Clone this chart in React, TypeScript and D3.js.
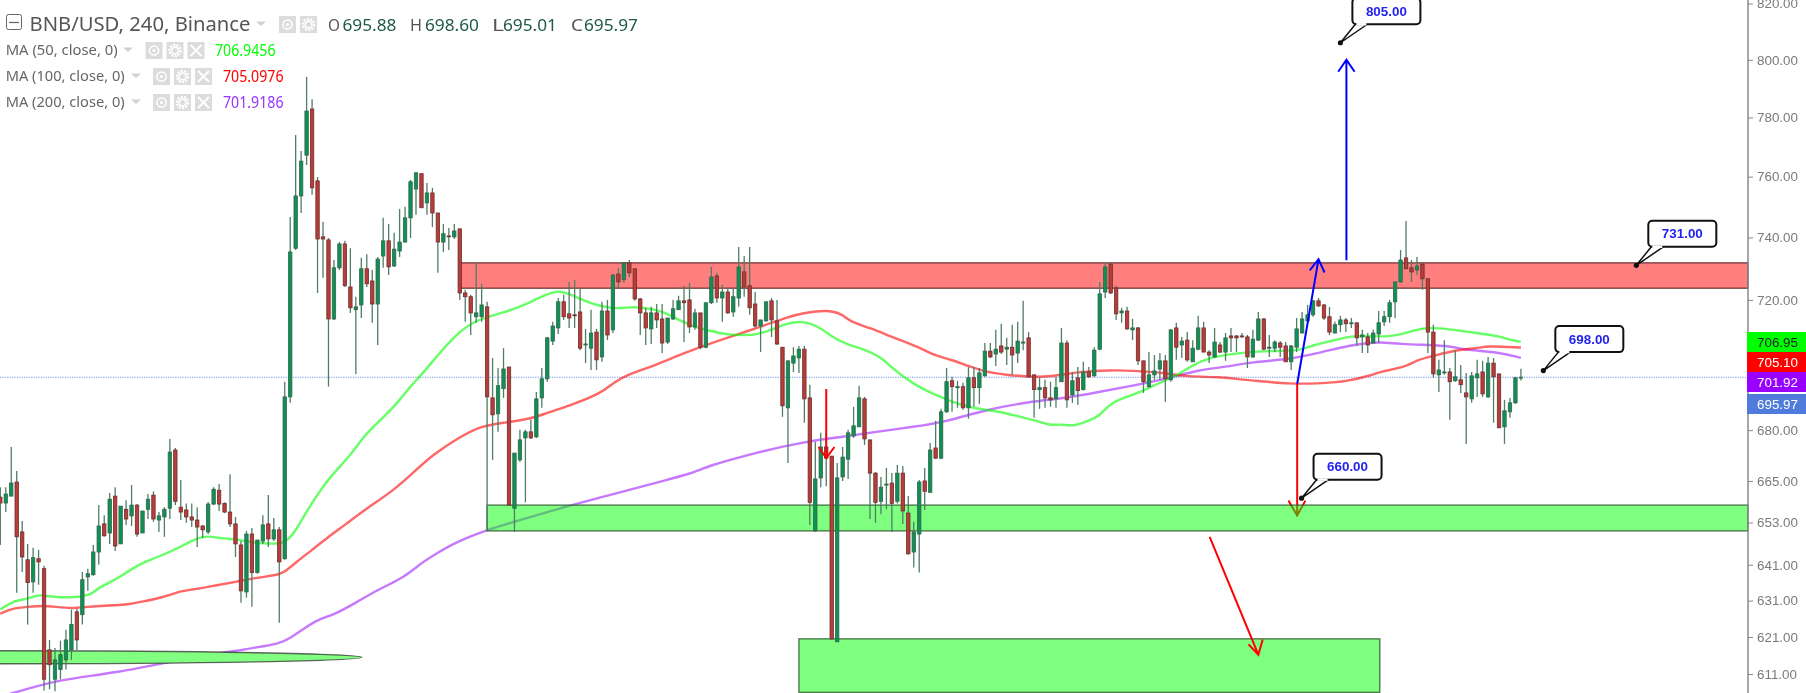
import React, { useEffect, useRef } from 'react';
import * as d3 from 'd3';

const W = 1806;
const H = 693;
const AXIS_X = 1748;

const open = [
  660.3,658.6,660.6,664.7,650.3,642.4,636.2,642.7,639.9,617.5,
  609.6,612.2,614.8,617.5,627.9,627.1,637.6,638.2,644.6,652.6,
  650.0,660.6,646.9,656.8,654.9,658.0,650.0,656.8,660.9,653.7,
  654.6,657.1,674.1,657.4,656.6,654.6,653.7,652.0,650.3,658.3,
  662.3,658.5,656.0,652.6,646.6,633.4,649.7,638.8,647.7,652.6,
  648.3,650.9,642.7,690.0,736.5,753.6,767.2,782.9,758.6,740.2,
  739.2,714.0,730.2,737.9,724.1,716.9,718.4,729.9,726.0,718.7,
  734.0,738.9,730.8,735.6,738.5,746.4,755.9,761.0,751.3,754.6,
  748.0,738.5,740.5,740.2,742.8,722.2,721.0,714.7,714.7,717.8,
  689.7,684.9,692.5,699.1,657.1,671.2,677.7,679.5,678.0,689.7,
  695.5,707.1,711.2,719.4,715.6,715.3,716.2,705.9,704.9,709.9,
  702.2,716.5,710.6,728.2,726.4,731.8,729.9,720.3,715.9,710.9,
  715.9,714.0,706.8,714.0,716.9,719.7,720.0,711.5,715.9,705.2,
  719.1,727.6,720.6,722.5,716.2,720.6,728.9,724.5,718.7,711.8,
  713.4,719.7,713.4,705.2,686.7,700.3,701.9,704.6,689.7,650.6,
  665.9,675.0,672.3,619.7,666.2,671.4,678.3,681.0,689.4,677.1,
  667.3,659.1,663.8,664.4,659.1,667.3,655.7,644.6,649.7,665.0,
  661.7,674.7,671.7,685.5,694.9,692.8,693.1,686.7,695.8,692.8,
  696.4,704.0,703.1,705.6,704.6,705.2,703.4,706.5,708.1,696.7,
  692.2,692.8,689.7,689.4,694.6,706.5,690.6,695.8,692.2,697.6,
  696.4,704.6,722.5,731.4,723.8,715.9,716.5,710.6,711.2,701.0,
  693.1,696.7,698.5,701.0,695.2,711.2,705.9,707.4,700.7,704.6,
  711.2,703.7,702.2,705.9,703.7,708.7,708.7,708.7,708.4,702.2,
  707.4,714.0,704.9,704.9,706.5,705.6,700.7,705.2,709.6,713.4,
  715.3,719.7,718.4,714.7,709.6,712.2,713.7,712.5,712.8,708.4,
  708.4,706.5,709.3,713.1,714.7,719.4,725.7,733.4,730.2,729.5,
  731.4,726.7,709.9,696.7,697.3,697.6,694.9,695.2,691.2,689.4,
  695.8,697.6,690.0,700.3,697.0,681.0,685.5,688.2,695.88
];

const high = [
  663.2,663.2,675.0,667.9,653.4,646.9,645.8,645.2,640.7,620.2,
  618.0,620.0,623.0,628.5,628.7,639.0,639.9,646.6,658.0,655.1,
  661.5,663.2,657.7,659.4,663.8,658.3,656.3,661.2,662.0,656.0,
  657.4,677.4,674.7,665.3,658.5,658.5,657.4,652.3,658.9,663.2,
  664.1,658.8,667.0,654.6,647.7,650.6,651.4,648.0,655.1,660.9,
  654.3,651.7,694.6,746.7,774.0,768.6,794.0,786.3,759.9,745.1,
  739.8,732.7,738.5,738.9,736.5,721.0,733.4,734.6,729.5,733.7,
  746.4,744.4,741.5,749.3,750.0,758.9,761.3,761.0,757.9,756.3,
  748.0,744.4,743.1,744.4,742.8,723.2,721.6,731.8,725.1,719.4,
  701.9,698.8,704.9,699.1,673.2,680.1,680.1,683.1,691.5,698.8,
  708.4,713.1,720.6,721.6,725.7,726.4,723.8,710.9,716.9,710.9,
  719.4,720.0,728.2,730.2,731.8,732.7,729.9,720.6,717.5,717.8,
  718.7,718.7,714.3,720.0,721.3,724.5,725.4,717.2,715.9,719.1,
  730.5,728.6,724.8,723.8,723.8,736.9,734.0,736.9,722.5,713.7,
  719.4,720.6,720.0,705.2,701.0,705.2,705.6,705.6,693.7,676.5,
  679.2,679.2,672.3,670.3,675.0,680.1,687.0,693.4,690.0,677.1,
  667.6,666.2,668.8,667.3,669.7,669.4,660.6,653.2,665.3,668.8,
  676.2,682.8,686.4,698.8,696.1,694.9,694.3,699.1,699.1,698.8,
  706.5,706.5,710.6,712.5,708.1,712.2,713.1,719.7,709.9,696.7,
  695.8,695.2,694.6,696.1,711.2,707.4,697.6,699.1,700.7,699.1,
  705.2,725.7,731.8,732.1,724.5,717.5,717.8,714.0,711.5,701.0,
  703.7,702.8,703.4,702.8,710.6,712.8,708.4,709.9,707.4,715.0,
  713.1,704.3,711.2,706.8,709.6,711.2,709.0,709.6,709.0,710.6,
  716.2,714.3,709.0,707.4,707.1,706.8,705.9,714.3,716.2,718.4,
  720.0,720.6,718.7,717.8,713.1,715.0,714.3,714.3,712.8,710.6,
  709.6,710.6,716.5,716.5,720.0,725.7,735.9,745.4,732.7,733.7,
  732.1,726.7,712.2,701.3,707.4,698.8,704.3,699.7,697.3,697.6,
  701.3,701.0,702.2,701.9,697.0,689.1,689.7,696.1,698.60
];

const low = [
  646.6,656.0,660.6,633.2,639.0,624.4,633.2,635.4,606.6,606.9,
  606.4,609.6,612.2,614.8,617.5,624.4,633.7,637.9,641.0,648.9,
  646.9,644.9,646.9,652.3,652.0,648.9,650.0,654.0,653.2,650.3,
  648.9,654.0,658.0,653.7,652.9,651.7,646.0,648.6,649.7,658.0,
  656.3,655.7,651.7,643.2,630.4,631.8,629.3,638.5,646.9,646.0,
  647.7,624.9,642.4,688.2,735.9,748.0,763.9,754.0,722.2,727.0,
  693.1,713.7,729.5,724.1,715.9,697.0,714.3,724.1,712.8,705.9,
  730.2,727.9,730.5,733.7,738.5,739.8,747.4,749.7,747.4,743.4,
  728.6,735.3,735.9,739.5,720.0,713.1,709.0,712.8,713.1,650.9,
  671.2,679.5,689.7,658.0,650.3,670.6,658.8,677.4,677.7,686.7,
  694.6,705.9,709.3,713.7,711.2,711.2,704.3,700.3,698.2,698.2,
  700.7,707.4,709.6,723.8,725.4,727.3,719.7,709.0,705.9,706.2,
  711.2,703.4,706.2,713.7,716.9,706.8,709.6,710.6,704.6,704.9,
  718.7,719.1,713.1,715.6,714.7,717.8,721.0,715.3,711.2,703.7,
  713.1,708.4,705.9,684.0,670.3,697.6,697.3,682.2,652.3,650.3,
  663.2,663.5,620.2,619.7,665.0,665.6,677.7,681.0,675.6,654.0,
  652.9,655.4,656.8,650.3,658.5,652.6,643.8,640.2,638.8,656.6,
  661.7,671.4,671.4,685.2,685.5,686.7,686.1,683.4,687.0,687.9,
  696.1,701.9,699.4,703.1,699.7,696.7,700.3,704.3,696.1,683.7,
  686.4,686.7,687.0,686.7,694.6,686.7,688.2,687.6,691.9,695.8,
  696.1,704.3,720.6,721.9,713.7,712.8,710.6,707.4,699.7,691.2,
  692.8,695.2,695.2,688.5,694.6,701.3,701.9,700.7,700.7,704.3,
  703.7,700.3,701.9,703.4,701.0,703.7,703.7,708.1,698.8,701.9,
  707.1,704.3,702.2,703.7,702.2,700.7,698.2,703.7,709.6,713.1,
  714.7,717.8,713.7,709.0,709.6,709.9,709.9,711.2,705.6,703.4,
  703.4,706.5,706.5,711.8,712.8,714.3,725.4,729.9,725.7,727.9,
  723.2,703.4,695.8,691.5,696.7,683.1,694.6,691.2,675.9,688.2,
  690.0,690.0,689.7,682.2,680.7,675.9,683.7,687.9,695.01
];

const close = [
  658.6,661.2,664.4,648.9,643.2,636.0,643.0,641.8,609.6,613.5,
  614.8,616.2,620.2,624.4,620.2,636.8,638.5,644.6,652.0,649.2,
  659.7,646.3,657.7,654.0,658.0,649.7,656.3,659.7,654.0,654.9,
  656.8,673.5,659.1,656.0,654.6,653.7,651.7,650.9,658.3,662.6,
  658.3,656.0,652.6,646.9,633.7,649.7,638.8,648.0,652.3,648.3,
  650.9,641.8,690.0,735.3,753.6,765.2,782.2,756.3,739.5,739.5,
  714.0,730.2,737.9,724.5,717.5,717.8,729.9,725.1,718.7,733.0,
  738.9,730.5,736.2,738.5,746.4,758.3,761.3,749.7,754.6,748.0,
  738.5,741.2,740.2,742.1,722.2,721.0,715.9,715.9,718.4,690.0,
  684.6,693.4,698.5,658.0,673.2,677.1,679.5,677.7,689.4,695.5,
  708.1,711.8,719.4,714.7,714.3,715.0,704.9,706.2,709.6,701.3,
  716.5,709.0,727.9,725.7,731.8,728.6,720.3,715.9,711.2,715.9,
  713.7,706.5,714.3,717.2,719.7,719.1,711.5,715.9,705.2,719.1,
  727.3,720.6,722.5,715.9,721.0,730.5,724.1,717.5,711.8,713.7,
  719.4,713.7,706.2,687.3,701.0,702.5,704.6,689.4,658.8,665.6,
  675.0,671.7,620.5,665.9,672.0,679.2,681.3,689.7,677.4,667.3,
  658.8,663.2,664.1,658.5,667.3,656.3,644.1,650.3,664.7,662.0,
  674.1,671.7,685.5,694.6,693.1,693.1,686.7,695.8,692.8,697.3,
  704.0,702.2,704.6,703.7,705.2,702.8,707.1,706.8,696.1,692.2,
  692.8,689.7,689.1,692.8,706.5,689.1,694.9,691.9,697.6,696.1,
  704.3,721.9,730.5,722.2,715.6,716.5,710.9,711.2,701.0,694.6,
  696.7,697.9,701.0,695.5,710.6,705.2,707.1,701.3,704.9,711.2,
  703.7,702.8,706.8,703.7,708.1,708.1,708.1,708.4,702.2,707.7,
  714.0,704.6,705.2,706.8,705.2,700.7,705.6,710.9,714.0,715.3,
  719.7,718.1,714.3,709.9,712.2,713.7,712.5,712.8,708.1,709.0,
  705.9,709.6,712.8,714.7,719.1,725.7,732.7,729.9,728.9,730.8,
  726.7,709.9,697.0,698.2,697.6,694.6,696.1,693.7,690.0,696.4,
  697.0,690.9,700.3,696.1,680.7,685.8,688.2,695.8,695.97
];

// moving averages read at turning points: bar index, price
const ma50Bars = [0,2,5,7,8,10,14,16,17,18,21,23,26,28,31,34,36,38,41,43,45,49,52,53.9,55.8,58.5,60.3,64.4,66.6,70,73.1,74.9,77,79.7,83.2,86.8,92,97,102,106,110,113,115,118,121,124,127,129,133,136,138,141,144,147,150,152,155,158,161,163,167,171,174,177,180,183,187,189,192,194,196,199,201,203,206,208,212,215,218,221,225,230,234,238,240,244,247,250,254,257,260,263,267,271,274,276,278];
const ma50 = [628.5,630.7,631.5,632.6,632.4,631.9,631.9,632.5,633.2,634.6,636.8,638.8,641.6,642.7,644.6,646.9,648.6,649.2,648.3,648.3,647.5,646.9,646.9,650.3,655.7,662.3,666.2,673.2,678.6,683.7,689.1,693.1,696.7,702.2,709.0,713.7,715.9,719.1,724.1,720.0,717.8,717.2,717.8,717.5,716.5,713.7,711.5,710.6,709.0,709.0,709.0,710.6,712.8,713.4,711.2,708.4,705.9,704.6,702.2,698.8,693.7,690.6,688.5,687.0,686.1,685.5,683.7,683.1,681.3,681.9,681.0,682.8,684.3,688.2,690.0,691.2,694.3,696.4,699.7,701.9,703.1,704.0,704.0,704.3,705.9,707.4,708.7,708.7,708.4,709.6,711.2,711.2,710.3,709.3,708.7,707.4,706.95];

const ma100Bars = [0,2,5,8,10,13,16,19,23,26,30,33,35,39,43,47,51,52,54,57,60,63,67,72,76,79,84,88,92,97,100,104,110,112,115,119,125,130,136,139,144,147,151,154,155,159,163,168,171,174,177,180,184,188,192,197,203,208,213,217,223,227,232,235,241,246,251,252,257,259,262,266,270,272,276,278];
const ma100 = [627.4,628.8,629.3,629.6,629.3,628.8,629.3,629.6,629.8,630.7,632.0,633.7,634.0,635.1,636.2,637.4,638.2,639.0,641.6,645.2,648.9,652.3,657.1,662.3,668.2,672.6,678.0,681.3,682.2,683.4,685.2,687.3,691.2,694.3,697.0,699.1,703.4,706.5,709.9,711.5,714.7,715.9,716.9,715.6,713.4,711.2,708.4,705.2,702.5,701.3,699.4,697.6,696.7,696.1,696.1,697.6,698.2,697.9,697.3,696.1,696.1,695.2,694.6,694.0,694.0,694.6,696.7,697.6,699.1,701.3,702.5,704.3,704.9,705.6,705.2,705.1];

const ma200Bars = [0,4,11,21,34,39,43,46,51,53,56,58,61,65,69,74,77,80,83,89,94,103,110,121,126,130,136,141,148,154,160,167,173,180,188,195,200,207,214,219,224,229,235,241,247,250,252,256,261,265,268,274,278];
const ma200 = [605.0,606.6,609.6,611.2,615.2,616.4,617.2,618.0,619.1,620.7,623.8,625.7,627.1,630.4,634.0,637.6,641.6,644.4,647.2,650.9,653.2,657.4,660.3,665.0,667.0,669.7,672.3,674.4,676.8,678.0,679.5,681.0,682.5,686.1,688.5,689.7,691.2,693.4,695.8,698.2,699.1,700.7,701.3,703.4,705.9,706.5,706.8,706.2,705.9,705.6,704.3,703.7,701.92];

const tickValues = [820, 800, 780, 760, 740, 720, 680, 665, 653, 641, 631, 621, 611];

const tagValues = [706.95, 705.10, 701.92, 695.97];
const tagFill = ['#00ff00', '#ff0000', '#9900ff', '#4f7bdc'];
const tagText = ['#222', '#fff', '#fff', '#fff'];

const legendNames = ['MA (50, close, 0)', 'MA (100, close, 0)', 'MA (200, close, 0)'];
const legendValues = ['706.9456', '705.0976', '701.9186'];
const legendColors = ['#00ff00', '#ff0000', '#9933ff'];

const ohlcNames = ['O', 'H', 'L', 'C'];
const ohlcValues = ['695.88', '698.60', '695.01', '695.97'];

const calloutLabels = ['805.00', '731.00', '698.00', '660.00'];
const calloutPrices = [806.0, 731, 698, 660];
const calloutBars = [245, 299.1, 282.1, 237.9];

const lastPrice = 695.97;

export default function App() {
  const svgRef = useRef<SVGSVGElement>(null);

  useEffect(() => {
    if (!svgRef.current) return;
    const svg = d3.select(svgRef.current);
    svg.selectAll('*').remove();

    const x = d3.scaleLinear().domain([0, 278]).range([0.3, 1520.9]);
    const y = d3.scaleLog().domain([820, 611]).range([3.5, 674]);

    const pane = svg.append('g');

    const maLine = d3.line<[number, number]>()
      .x(d => x(d[0]))
      .y(d => y(d[1]))
      .curve(d3.curveBasis);

    const arrow = (g: any, pts: [number, number][], wings: [number, number][], color: string) => {
      const p = d3.path();
      p.moveTo(x(pts[0][0]), y(pts[0][1]));
      p.lineTo(x(pts[1][0]), y(pts[1][1]));
      p.moveTo(x(wings[0][0]), y(wings[0][1]));
      p.lineTo(x(pts[1][0]), y(pts[1][1]));
      p.lineTo(x(wings[1][0]), y(wings[1][1]));
      g.append('path').attr('d', p.toString()).attr('fill', 'none')
        .attr('stroke', color).attr('stroke-width', 2);
    };

    // dotted last price line
    pane.append('line')
      .attr('x1', 0).attr('x2', AXIS_X)
      .attr('y1', y(lastPrice)).attr('y2', y(lastPrice))
      .attr('stroke', '#6f93ee').attr('stroke-width', 1.2).attr('stroke-dasharray', '1.2 1.2');

    const mas: [number[], number[], string][] = [
      [ma200Bars, ma200, '#a020ff'],
      [ma100Bars, ma100, '#ff0000'],
      [ma50Bars, ma50, '#00ff00'],
    ];
    mas.forEach(([bars, vals, color]) => {
      pane.append('path')
        .attr('d', maLine(bars.map((b, i) => [b, vals[i]] as [number, number])))
        .attr('fill', 'none').attr('stroke', color)
        .attr('stroke-opacity', 0.6).attr('stroke-width', 2.4);
    });

    // this one sits below the zone, its head goes olive under the green fill
    arrow(pane, [[237.1, 693.9], [237.1, 655.0]], [[235.5, 659.3], [238.6, 659.3]], '#ff0000');

    const zones: [number, number, number, number, string, string][] = [
      [84, 278 + 41.5, 731.8, 723.7, '#ff0000', '#5a2626'],
      [89, 278 + 41.5, 658.0, 650.6, '#00ff00', '#2f5a2f'],
      [146, 252.2, 620.5, 606.1, '#00ff00', '#2f5a2f'],
    ];
    zones.forEach(([b0, b1, top, bot, fill, edge]) => {
      pane.append('rect')
        .attr('x', x(b0)).attr('width', x(b1) - x(b0))
        .attr('y', y(top)).attr('height', y(bot) - y(top))
        .attr('fill', fill).attr('fill-opacity', 0.5)
        .attr('stroke', edge).attr('stroke-opacity', 0.8).attr('stroke-width', 1.4);
    });

    // flattened old drawing on the left edge
    pane.append('ellipse')
      .attr('cx', x(0)).attr('cy', y(615.5))
      .attr('rx', x(66.1) - x(0)).attr('ry', (y(613.7) - y(617.2)) / 2)
      .attr('fill', '#80ff80').attr('stroke', '#333').attr('stroke-opacity', 0.75).attr('stroke-width', 1.4);

    const candles = pane.append('g');
    d3.range(open.length).forEach(i => {
      const up = close[i] >= open[i];
      const cx = x(i);
      candles.append('line')
        .attr('x1', cx).attr('x2', cx)
        .attr('y1', y(high[i])).attr('y2', y(low[i]))
        .attr('stroke', '#4f7d66').attr('stroke-width', 1.3);
      const top = y(Math.max(open[i], close[i]));
      const bot = y(Math.min(open[i], close[i]));
      candles.append('rect')
        .attr('x', cx - 1.7).attr('width', 3.4)
        .attr('y', top).attr('height', Math.max(bot - top, 0.8))
        .attr('fill', up ? '#0e9155' : '#b83c38')
        .attr('stroke', up ? '#33664c' : '#6d2f2d').attr('stroke-width', 0.8);
    });

    // drawn trend arrows
    arrow(pane, [[151, 692.4], [151, 671.7]], [[149.6, 675.0], [152.5, 675.0]], '#ff0000');
    arrow(pane, [[246.1, 732.6], [246.1, 800]], [[244.6, 795.8], [247.6, 795.8]], '#0000ff');
    arrow(pane, [[237.1, 693.9], [241, 733.0]], [[239.4, 729.4], [242.1, 728.7]], '#0000ff');
    arrow(pane, [[221.1, 648.9], [230, 616.2]], [[228.2, 619.0], [230.8, 620.3]], '#ff0000');

    // price callouts
    calloutLabels.forEach((text, i) => {
      const dx = x(calloutBars[i]);
      const dy = y(calloutPrices[i]);
      const left = dx + 12;
      const bottom = dy - 18.5;
      const g = svg.append('g');
      g.append('path')
        .attr('d', `M${left + 3},${bottom} L${dx},${dy} L${left + 15},${bottom}`)
        .attr('fill', '#fff').attr('stroke', '#111').attr('stroke-width', 1.5);
      g.append('rect')
        .attr('x', left).attr('y', bottom - 26).attr('width', 68).attr('height', 26).attr('rx', 4)
        .attr('fill', '#fff').attr('stroke', '#111').attr('stroke-width', 2);
      g.append('line')
        .attr('x1', left + 4).attr('x2', left + 14)
        .attr('y1', bottom).attr('y2', bottom)
        .attr('stroke', '#fff').attr('stroke-width', 2.4);
      g.append('circle').attr('cx', dx).attr('cy', dy).attr('r', 2.6).attr('fill', '#111');
      g.append('text')
        .attr('x', left + 34).attr('y', bottom - 8.5)
        .attr('text-anchor', 'middle')
        .attr('font-family', '"Liberation Sans", Arial, sans-serif')
        .attr('font-weight', 700).attr('font-size', 13.4)
        .attr('fill', '#2323ee')
        .text(text);
    });

    // right price scale
    const axisG = svg.append('g').attr('transform', `translate(${AXIS_X},0)`);
    axisG.call(
      d3.axisRight(y)
        .tickValues(tickValues)
        .tickFormat(d3.format('.2f') as any)
        .tickSize(5)
        .tickPadding(4)
    );
    axisG.select('.domain').remove();
    axisG.append('line')
      .attr('x1', 0).attr('x2', 0).attr('y1', 0).attr('y2', H)
      .attr('stroke', '#8a8a8a').attr('stroke-width', 1.5);
    axisG.selectAll('.tick line').attr('stroke', '#888');
    axisG.selectAll('.tick text')
      .attr('fill', '#7a7a7a')
      .attr('font-family', '"Liberation Sans", Arial, sans-serif')
      .attr('font-size', 13.4);

    tagValues.forEach((v, i) => {
      const top = 332 + i * 20 + (i === 3 ? 2 : 0);
      svg.append('rect')
        .attr('x', AXIS_X - 1).attr('y', top).attr('width', W - AXIS_X + 1).attr('height', 20)
        .attr('fill', tagFill[i]);
      svg.append('text')
        .attr('x', AXIS_X + 9).attr('y', top + 15)
        .attr('font-family', '"Liberation Sans", Arial, sans-serif')
        .attr('font-size', 13.4)
        .attr('fill', tagText[i])
        .text(v.toFixed(2));
    });

    // legend
    const legend = svg.append('g').attr('font-family', '"Noto Sans", Tahoma, sans-serif');

    const label = (tx: number, ty: number, s: string, size: number, fill: string, len: number) => {
      legend.append('text')
        .attr('x', tx).attr('y', ty)
        .attr('font-size', size).attr('fill', fill)
        .attr('textLength', len).attr('lengthAdjust', 'spacingAndGlyphs')
        .text(s);
    };
    const caret = (tx: number, ty: number, w: number) => {
      legend.append('path')
        .attr('d', `M${tx},${ty} h${w} l${-w / 2},${w * 0.45} Z`)
        .attr('fill', '#d2d2d2');
    };
    const iconBox = (tx: number, ty: number, kind: string) => {
      const s = 17;
      const cx = tx + s / 2;
      const cy = ty + s / 2;
      legend.append('rect').attr('x', tx).attr('y', ty).attr('width', s).attr('height', s).attr('fill', '#dcdcdc');
      if (kind === 'eye') {
        legend.append('circle').attr('cx', cx).attr('cy', cy).attr('r', 4.6)
          .attr('fill', 'none').attr('stroke', '#fff').attr('stroke-width', 1.5);
        legend.append('circle').attr('cx', cx).attr('cy', cy).attr('r', 1.5).attr('fill', '#fff');
      } else if (kind === 'gear') {
        legend.append('circle').attr('cx', cx).attr('cy', cy).attr('r', 5.6)
          .attr('fill', 'none').attr('stroke', '#fff').attr('stroke-width', 2.2).attr('stroke-dasharray', '2.2 1.2');
        legend.append('circle').attr('cx', cx).attr('cy', cy).attr('r', 3.4)
          .attr('fill', 'none').attr('stroke', '#fff').attr('stroke-width', 1.6);
      } else {
        legend.append('path')
          .attr('d', `M${tx + 3},${ty + 3} L${tx + s - 3},${ty + s - 3} M${tx + s - 3},${ty + 3} L${tx + 3},${ty + s - 3}`)
          .attr('stroke', '#fff').attr('stroke-width', 1.8);
      }
    };

    legend.append('rect')
      .attr('x', 6.5).attr('y', 14.5).attr('width', 15).attr('height', 15).attr('rx', 2)
      .attr('fill', '#fff').attr('stroke', '#666').attr('stroke-width', 1);
    legend.append('line')
      .attr('x1', 9).attr('x2', 19).attr('y1', 22.5).attr('y2', 22.5)
      .attr('stroke', '#666').attr('stroke-width', 1.2);
    label(29.5, 31, 'BNB/USD, 240, Binance', 20, '#555', 221);
    caret(256, 21.5, 10);
    iconBox(279, 16, 'eye');
    iconBox(300, 16, 'gear');

    const ohlcNameX = [328, 410, 492, 571];
    const ohlcValueX = [342.5, 425, 503, 584];
    ohlcNames.forEach((n, i) => {
      label(ohlcNameX[i], 30.5, n, 16, '#555', 12);
      label(ohlcValueX[i], 30.5, ohlcValues[i], 16, '#1e5b42', 54);
    });

    const rowBase = [55, 81, 107];
    const nameLen = [112, 119, 119];
    const caretX = [123, 131, 131];
    const iconX = [145.5, 153, 153];
    const valueX = [215, 223, 223];
    legendNames.forEach((n, i) => {
      label(5.7, rowBase[i], n, 15, '#666', nameLen[i]);
      caret(caretX[i], rowBase[i] - 7.5, 10);
      iconBox(iconX[i], rowBase[i] - 13, 'eye');
      iconBox(iconX[i] + 21, rowBase[i] - 13, 'gear');
      iconBox(iconX[i] + 42, rowBase[i] - 13, 'x');
      label(valueX[i], rowBase[i] + 0.5, legendValues[i], 16, legendColors[i], 60.5);
    });
  }, []);

  return (
    <svg
      ref={svgRef}
      width={W}
      height={H}
      style={{ position: 'absolute', top: 0, left: 0, display: 'block', background: '#fff', filter: 'blur(0.3px)' }}
    />
  );
}
